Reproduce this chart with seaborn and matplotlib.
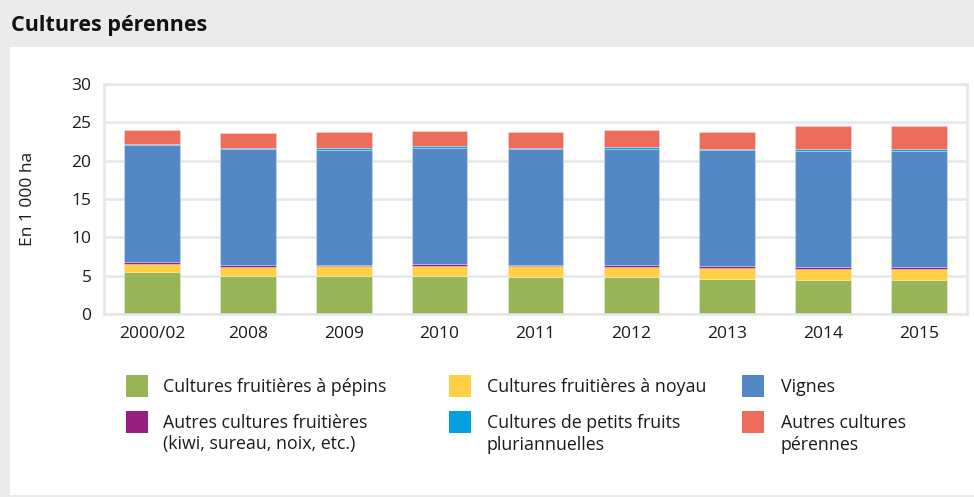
import seaborn as sns
import matplotlib.pyplot as plt
from matplotlib.patches import Rectangle
import numpy as np

sns.set_theme(style="white")
plt.rcParams['font.family'] = ['Open Sans', 'DejaVu Sans']

# données (en 1 000 ha)
years = ['2000/02', '2008', '2009', '2010', '2011', '2012', '2013', '2014', '2015']
pepins = [5.5, 4.9, 4.9, 4.9, 4.85, 4.8, 4.55, 4.45, 4.45]
noyau = [1.0, 1.25, 1.3, 1.4, 1.35, 1.35, 1.4, 1.45, 1.45]
autres_fruits = [0.25, 0.25, 0.2, 0.2, 0.2, 0.25, 0.3, 0.25, 0.25]
vignes = [15.3, 15.1, 15.05, 15.1, 15.1, 15.1, 15.1, 15.05, 15.05]
petits_fruits = [0.15, 0.2, 0.25, 0.25, 0.2, 0.25, 0.2, 0.3, 0.3]
autres_cultures = [1.85, 1.85, 2.0, 2.0, 2.0, 2.2, 2.25, 3.05, 3.05]

labels = ['Cultures fruitières à pépins', 'Cultures fruitières à noyau',
          'Autres cultures fruitières\n(kiwi, sureau, noix, etc.)', 'Vignes',
          'Cultures de petits fruits\npluriannuelles', 'Autres cultures\npérennes']
colors = ['#97b557', '#ffcf44', '#97207f', '#5387c6', '#05a0e0', '#ed6c5c']
series = [pepins, noyau, autres_fruits, vignes, petits_fruits, autres_cultures]

W, H = 974, 497
fig = plt.figure(figsize=(W / 100, H / 100), dpi=100, facecolor='#ebebeb')

def fx(x):
    return x / W

def fy(y):
    return 1 - y / H

# panneau blanc
fig.add_artist(Rectangle((fx(10), fy(495)), 1, (495 - 47) / H,
                         transform=fig.transFigure, facecolor='white', edgecolor='none', zorder=0))
fig.text(fx(11), fy(25), 'Cultures pérennes', fontsize=15.5, fontweight='bold',
         va='center', ha='left', color='#111111')

ax = fig.add_axes([fx(104), fy(314), (967 - 104) / W, 230 / H])

bottom = np.zeros(len(years))
for vals, col in zip(series, colors):
    sns.barplot(x=years, y=vals, bottom=bottom.copy(), color=col, saturation=1,
                width=0.58, errorbar=None, edgecolor=(1, 1, 1, 0.5), linewidth=0.4, ax=ax)
    bottom += np.array(vals)

ax.set_xlim(-0.5, len(years) - 0.5)
ax.set_ylim(0, 30)
ax.set_yticks(range(0, 31, 5))
ax.set_axisbelow(True)
ax.yaxis.grid(True, color='#e6e6e6', lw=1.8)
for s in ax.spines.values():
    s.set_color('#e6e6e6')
    s.set_linewidth(1.8)
ax.set_xticks(np.arange(0.5, len(years) - 1, 1), minor=True)
ax.tick_params(axis='x', which='major', length=0, pad=9, labelsize=12.5, labelcolor='#1a1a1a')
ax.tick_params(axis='x', which='minor', length=8, width=1.8, color='#e3e3e3', direction='out')
ax.tick_params(axis='y', length=0, pad=9, labelsize=12.5, labelcolor='#1a1a1a')
ax.set_xlabel('')
ax.set_ylabel('En 1 000 ha', fontsize=12.5, color='#1a1a1a')
ax.yaxis.set_label_coords(-0.079, 0.5)

# légende
order = [0, 1, 3, 2, 4, 5]
col_box = [126, 449, 742]
col_txt = [163, 487, 781]
for k, i in enumerate(order):
    c, r = k % 3, k // 3
    top = 375 if r == 0 else 411
    fig.add_artist(Rectangle((fx(col_box[c]), fy(top + 22)), 22 / W, 22 / H,
                             transform=fig.transFigure, facecolor=colors[i], edgecolor='none'))
    fig.text(fx(col_txt[c]), fy(top + 3), labels[i], fontsize=12.8,
             va='top', ha='left', color='#1a1a1a', linespacing=1.25)

fig.savefig('out.png', dpi=100, facecolor=fig.get_facecolor())
